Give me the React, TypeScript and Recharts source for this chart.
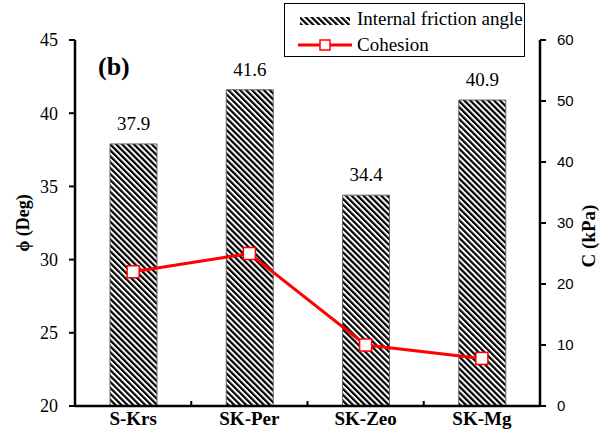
import React from 'react';
import { ComposedChart, Bar, Line, XAxis, YAxis, LabelList, Legend } from 'recharts';

const categories = ['S-Krs', 'SK-Per', 'SK-Zeo', 'SK-Mg'];
const frictionAngle = [37.9, 41.6, 34.4, 40.9];
const cohesion = [22, 25, 10, 7.8];
const leftTicks = [20, 25, 30, 35, 40, 45];
const rightTicks = [0, 10, 20, 30, 40, 50, 60];

const data = categories.map((c, i) => ({ name: c, phi: frictionAngle[i], c: cohesion[i] }));

const serif = "'Liberation Serif', 'DejaVu Serif', serif";
const sans = "'Liberation Sans', Arial, sans-serif";

const XTick = (props: any) => {
  const { x, y, payload, index } = props;
  const axisY = y - 6;
  return (
    <g>
      <text x={x} y={y} dy="0.71em" textAnchor="middle" style={{ fontFamily: serif }} fontWeight="bold" fontSize={19} fill="#000">
        {payload.value}
      </text>
      {index < categories.length - 1 && (
        <line x1={x + payload.offset} x2={x + payload.offset} y1={axisY} y2={axisY - 5} stroke="#000" strokeWidth={2} />
      )}
    </g>
  );
};

const SquareDot = (props: any) => {
  const { cx, cy, key } = props;
  if (cx == null || cy == null) return null;
  return <rect key={key} x={cx - 6} y={cy - 6} width={12} height={12} fill="#fff" stroke="#FF0000" strokeWidth={1.5} />;
};

const LegendContent = () => (
  <div style={{ width: 241, height: 54, border: '1px solid #000', boxSizing: 'border-box', background: '#fff', position: 'relative', fontFamily: serif, fontSize: 19, color: '#000' }}>
    <svg width={70} height={54} style={{ position: 'absolute', left: 0, top: 0 }}>
      <defs>
        <pattern id="hatchLegend" width="4.2" height="4.2" patternUnits="userSpaceOnUse" patternTransform="rotate(-45)">
          <rect width="4.2" height="4.2" fill="#fff" />
          <rect width="2.2" height="4.2" fill="#000" />
        </pattern>
      </defs>
      <rect x={15} y={13} width={50} height={8} fill="url(#hatchLegend)" />
      <line x1={13} x2={67} y1={41} y2={41} stroke="#FF0000" strokeWidth={3} />
      <rect x={35} y={36} width={10} height={10} fill="#fff" stroke="#FF0000" strokeWidth={1.5} />
    </svg>
    <div style={{ position: 'absolute', left: 72, top: 4, lineHeight: '22px', whiteSpace: 'nowrap' }}>Internal friction angle</div>
    <div style={{ position: 'absolute', left: 72, top: 30, lineHeight: '22px', whiteSpace: 'nowrap' }}>Cohesion</div>
  </div>
);

export default function App() {
  return (
    <div style={{ position: 'absolute', left: 0, top: 0, width: 608, height: 441, background: '#fff' }}>
      <ComposedChart width={608} height={441} data={data} margin={{ top: 40, right: 0, left: 0, bottom: 0 }}>
        <defs>
          <pattern id="hatch" width="4.2" height="4.2" patternUnits="userSpaceOnUse" patternTransform="rotate(-45)">
            <rect width="4.2" height="4.2" fill="#fff" />
            <rect width="2.2" height="4.2" fill="#000" />
          </pattern>
        </defs>
        <XAxis
          dataKey="name"
          height={35}
          tickLine={false}
          tickSize={0}
          tickMargin={6}
          axisLine={{ stroke: '#000', strokeWidth: 2.5 }}
          tick={<XTick />}
          interval={0}
        />
        <YAxis
          yAxisId="left"
          domain={[20, 45]}
          ticks={leftTicks}
          width={75}
          allowDataOverflow
          tickSize={6}
          tickMargin={11}
          axisLine={{ stroke: '#000', strokeWidth: 2.5 }}
          tickLine={{ stroke: '#000', strokeWidth: 2 }}
          tick={{ fontSize: 18, fill: '#000', style: { fontFamily: serif } }}
          label={{ value: 'ϕ (Deg)', angle: -90, position: 'center', dx: -15, style: { fontFamily: serif, fontWeight: 'bold', fontSize: 18, fill: '#000', textAnchor: 'middle' } }}
        />
        <YAxis
          yAxisId="right"
          orientation="right"
          domain={[0, 60]}
          ticks={rightTicks}
          width={68}
          tickSize={6}
          tickMargin={11}
          axisLine={{ stroke: '#000', strokeWidth: 2.5 }}
          tickLine={{ stroke: '#000', strokeWidth: 2 }}
          tick={{ fontSize: 15, fill: '#000', style: { fontFamily: sans } }}
          label={{ value: 'C (kPa)', angle: -90, position: 'center', dx: 14, dy: 13, style: { fontFamily: serif, fontWeight: 'bold', fontSize: 19, fill: '#000', textAnchor: 'middle' } }}
        />
        <Bar yAxisId="left" dataKey="phi" barSize={47} fill="url(#hatch)" stroke="#666" strokeWidth={1} isAnimationActive={false}>
          <LabelList dataKey="phi" position="top" offset={14} style={{ fontFamily: serif, fontSize: 19, fill: '#000' }} />
        </Bar>
        <Line yAxisId="right" dataKey="c" stroke="#FF0000" strokeWidth={3} dot={<SquareDot />} activeDot={false} isAnimationActive={false} />
        <Legend
          layout="vertical"
          align="center"
          verticalAlign="middle"
          content={<LegendContent />}
          wrapperStyle={{ position: 'absolute', left: 284, top: 3, width: 241, height: 54 }}
        />
      </ComposedChart>
      <div style={{ position: 'absolute', left: 98, top: 52, fontFamily: serif, fontWeight: 'bold', fontSize: 26 }}>(b)</div>
    </div>
  );
}
